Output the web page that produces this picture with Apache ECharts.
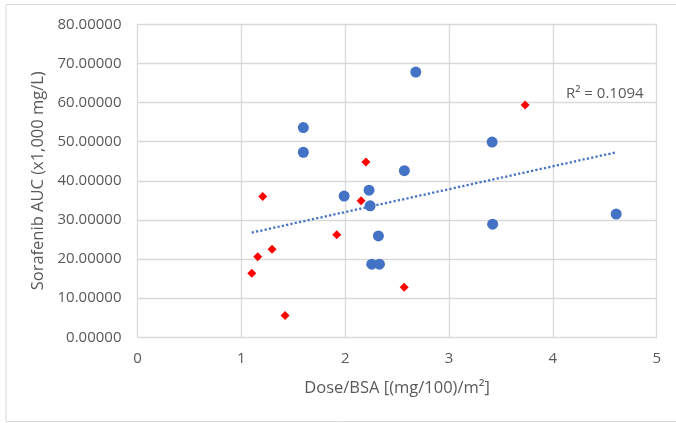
<!DOCTYPE html>
<html>
<head>
<meta charset="utf-8">
<script src="https://cdn.jsdelivr.net/npm/echarts@6/dist/echarts.min.js"></script>
<style>
	html, body { margin: 0; padding: 0; background: #fff; }
	#main { width: 676px; height: 423px; }
</style>
</head>
<body>
<div id="main"></div>
<script>
// blue circles: dose/BSA and AUC
var blueX = [1.597, 1.597, 1.99, 2.23, 2.24, 2.32, 2.256, 2.33, 2.57, 2.68, 3.415, 3.42, 4.61];
var blueY = [53.6, 47.3, 36.1, 37.6, 33.6, 25.9, 18.7, 18.7, 42.6, 67.8, 49.9, 28.9, 31.5];
// red diamonds
var redX = [1.206, 1.10, 1.158, 1.296, 1.421, 1.919, 2.20, 2.153, 3.733, 2.568];
var redY = [36.0, 16.4, 20.6, 22.5, 5.6, 26.2, 44.8, 34.9, 59.4, 12.8];

var r2Text = 'R² = 0.1094';
var textColor = '#595959';
var gridColor = '#d9d9d9';
var font = 'Open Sans';

function pairs(xs, ys) {
	var out = [];
	for (var i = 0; i < xs.length; i++) {
		out.push([xs[i], ys[i]]);
	}
	return out;
}

// linear trend over all points
function trendLine() {
	var xs = blueX.concat(redX);
	var ys = blueY.concat(redY);
	var n = xs.length, mx = 0, my = 0;
	for (var i = 0; i < n; i++) { mx += xs[i]; my += ys[i]; }
	mx /= n; my /= n;
	var sxy = 0, sxx = 0;
	for (var i = 0; i < n; i++) {
		sxy += (xs[i] - mx) * (ys[i] - my);
		sxx += (xs[i] - mx) * (xs[i] - mx);
	}
	var slope = sxy / sxx;
	var icpt = my - slope * mx;
	var x0 = Math.min.apply(null, xs);
	var x1 = Math.max.apply(null, xs);
	return [[x0, icpt + slope * x0], [x1, icpt + slope * x1]];
}

var chart = echarts.init(document.getElementById('main'), null, { renderer: 'canvas' });
var option = {
	animation: false,
	grid: {
		left: 137.5,
		right: 19.3,
		top: 24.3,
		bottom: 85.7
	},
	graphic: [
		{
			type: 'rect',
			shape: { x: 6, y: 4.5, width: 690, height: 417 },
			style: { fill: 'none', stroke: gridColor, lineWidth: 1 },
			silent: true
		},
		{
			type: 'text',
			left: 566,
			top: 86,
			style: {
				text: r2Text,
				fill: textColor,
				font: '15px "Open Sans"'
			}
		}
	],
	xAxis: {
		type: 'value',
		min: 0,
		max: 5,
		interval: 1,
		name: 'Dose/BSA [(mg/100)/m²]',
		nameLocation: 'middle',
		nameGap: 42,
		nameTextStyle: { color: textColor, fontSize: 16.5, fontFamily: font },
		axisLine: { show: false },
		axisTick: { show: false },
		axisLabel: { color: textColor, fontSize: 15, fontFamily: font, margin: 14 },
		splitLine: { show: true, lineStyle: { color: gridColor, width: 1.3 } }
	},
	yAxis: {
		type: 'value',
		min: 0,
		max: 80,
		interval: 10,
		name: 'Sorafenib AUC (x1,000 mg/L)',
		nameLocation: 'middle',
		nameGap: 87,
		nameTextStyle: { color: textColor, fontSize: 16.5, fontFamily: font },
		axisLine: { show: false },
		axisTick: { show: false },
		axisLabel: {
			color: textColor,
			fontSize: 15,
			fontFamily: font,
			margin: 16,
			formatter: function (v) { return v.toFixed(5); }
		},
		splitLine: { show: true, lineStyle: { color: gridColor, width: 1.3 } }
	},
	series: [
		{
			name: 'trend',
			type: 'line',
			data: trendLine(),
			showSymbol: false,
			silent: true,
			lineStyle: { color: '#4472C4', width: 2.3, type: [2.2, 2.2] },
			z: 1
		},
		{
			name: 'blue',
			type: 'scatter',
			data: pairs(blueX, blueY),
			symbol: 'circle',
			symbolSize: 11,
			itemStyle: { color: '#4472C4', opacity: 1 },
			z: 3
		},
		{
			name: 'red',
			type: 'scatter',
			data: pairs(redX, redY),
			symbol: 'diamond',
			symbolSize: [9, 9],
			itemStyle: { color: '#FF0000', opacity: 1 },
			z: 3
		}
	]
};
chart.setOption(option);
</script>
</body>
</html>
